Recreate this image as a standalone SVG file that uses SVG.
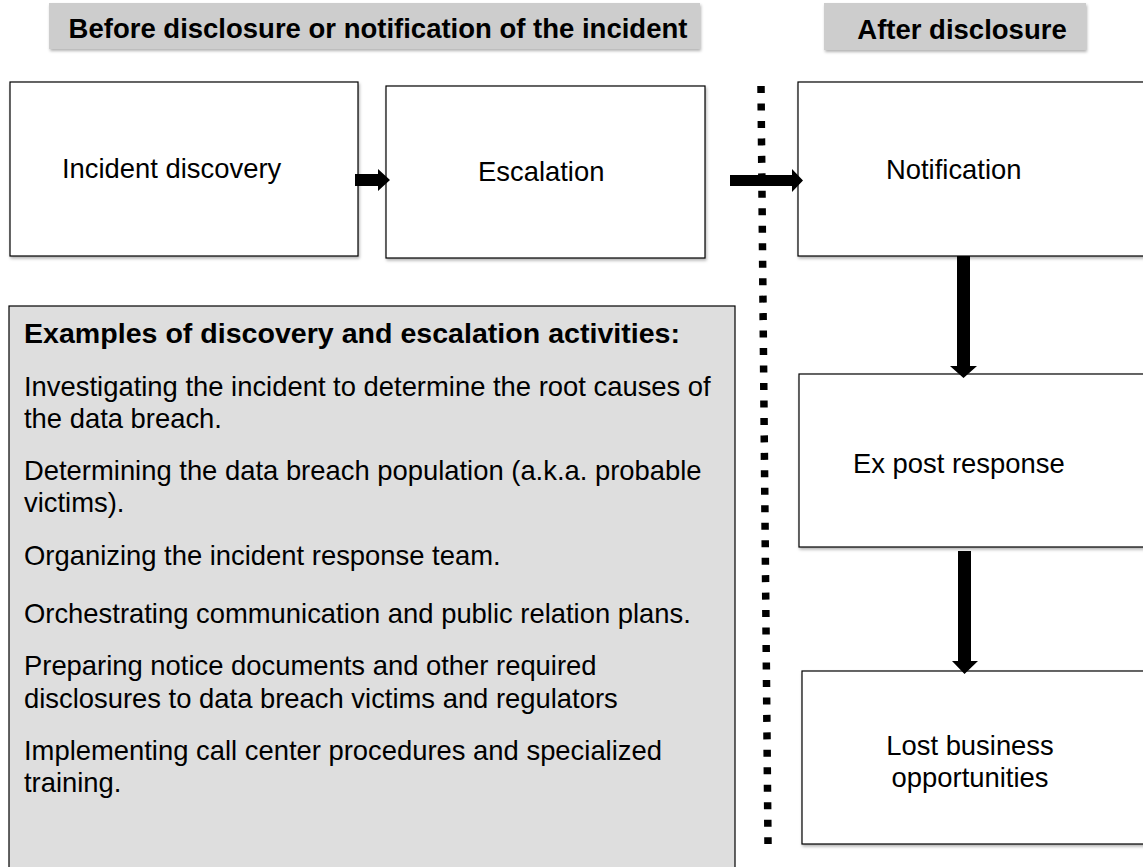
<svg xmlns="http://www.w3.org/2000/svg" width="1143" height="867" viewBox="0 0 1143 867">
<defs>
<filter id="sh" x="-5%" y="-5%" width="110%" height="115%">
<feDropShadow dx="1" dy="2" stdDeviation="1.5" flood-color="#000" flood-opacity="0.3"/>
</filter>
<style>
.hdr{fill:#cdcdcd;filter:url(#sh)}
.ht{font-family:"Liberation Sans",Arial,sans-serif;font-weight:bold;font-size:27.5px;fill:#000}
.box{fill:#fff;stroke:#000;stroke-width:1.2;filter:url(#sh)}
.bt{font-family:"Liberation Sans",Arial,sans-serif;font-size:27.4px;fill:#000}
.gray{fill:#dedede;stroke:#000;stroke-width:1.2}
.arr{fill:#000}
</style>
</defs>
<g id="header-before">
<rect class="hdr" x="49" y="3" width="651" height="46"/>
<text class="ht" x="378" y="38" text-anchor="middle">Before disclosure or notification of the incident</text>
</g>
<g id="header-after">
<rect class="hdr" x="824" y="3" width="262" height="47"/>
<text class="ht" x="962" y="39" text-anchor="middle">After disclosure</text>
</g>
<g id="incident-discovery">
<rect class="box" x="10" y="82" width="348" height="174"/>
<text class="bt" x="62" y="178">Incident discovery</text>
</g>
<g id="escalation">
<rect class="box" x="386" y="86" width="319" height="172"/>
<text class="bt" x="478" y="181">Escalation</text>
</g>
<g id="notification">
<rect class="box" x="798" y="82" width="360" height="174"/>
<text class="bt" x="886" y="179">Notification</text>
</g>
<g id="ex-post-response">
<rect class="box" x="799" y="374" width="360" height="173"/>
<text class="bt" x="853" y="473">Ex post response</text>
</g>
<g id="lost-business">
<rect class="box" x="802" y="671" width="360" height="173"/>
<text class="bt" x="970" y="755" text-anchor="middle">Lost business</text>
<text class="bt" x="970" y="787" text-anchor="middle">opportunities</text>
</g>
<g id="examples">
<rect class="gray" x="9" y="306" width="726" height="580"/>
<text class="bt" x="24" y="343" font-weight="bold" font-size="28.6" textLength="656" lengthAdjust="spacingAndGlyphs">Examples of discovery and escalation activities:</text>
<text class="bt" x="24" y="396">Investigating the incident to determine the root causes of</text>
<text class="bt" x="24" y="428">the data breach.</text>
<text class="bt" x="24" y="480">Determining the data breach population (a.k.a. probable</text>
<text class="bt" x="24" y="512">victims).</text>
<text class="bt" x="24" y="565">Organizing the incident response team.</text>
<text class="bt" x="24" y="623">Orchestrating communication and public relation plans.</text>
<text class="bt" x="24" y="675">Preparing notice documents and other required</text>
<text class="bt" x="24" y="708">disclosures to data breach victims and regulators</text>
<text class="bt" x="24" y="760">Implementing call center procedures and specialized</text>
<text class="bt" x="24" y="792">training.</text>
</g>
<g id="divider">
<line x1="761" y1="86" x2="768" y2="844" stroke="#000" stroke-width="7.5" stroke-dasharray="7 10.47"/>
</g>
<g id="connectors">
<polygon class="arr" points="355,174 378,174 378,169 390,180 378,191 378,186 355,186"/>
<polygon class="arr" points="730,175 792,175 792,169 803,180.5 792,192 792,186 730,186"/>
<polygon class="arr" points="957,256 970,256 970,366 977,366 963.5,378 950,366 957,366"/>
<polygon class="arr" points="958,551 971,551 971,661 978,661 964.5,674 952,661 958,661"/>
</g>
</svg>
